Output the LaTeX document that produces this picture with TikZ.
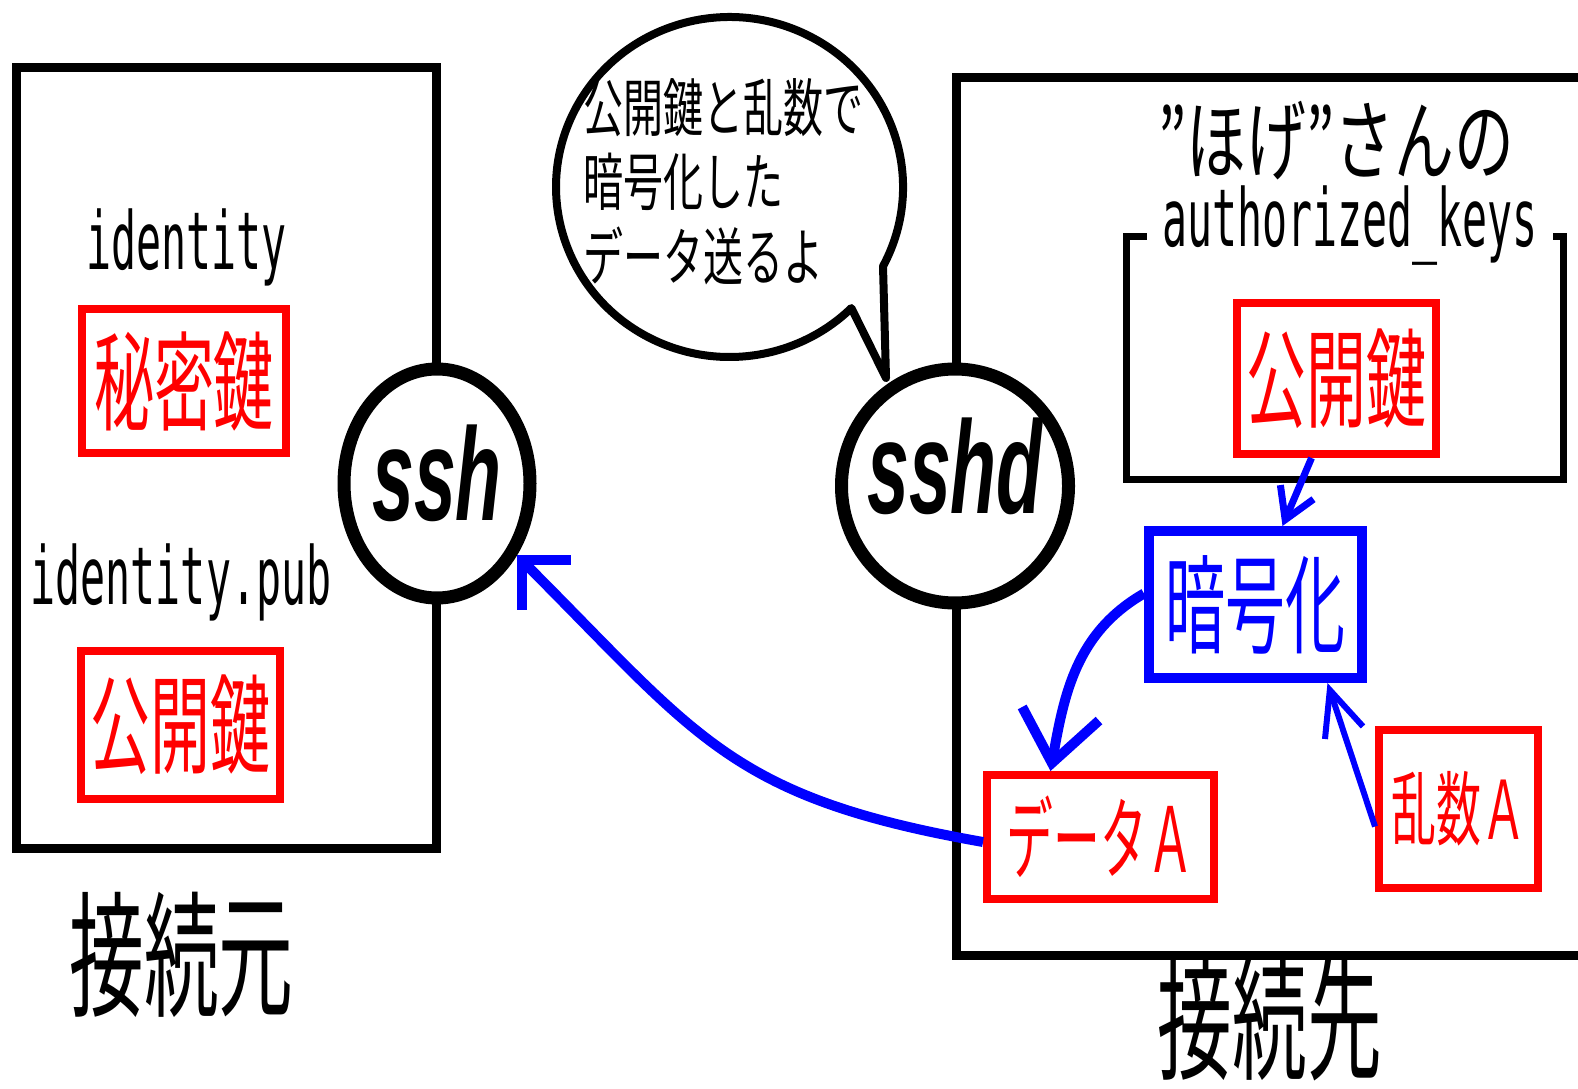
\documentclass[tikz,border=0pt]{standalone}
\usepackage{fontspec}
\usepackage{graphicx}
\usetikzlibrary{arrows.meta,shapes.geometric}
\newfontfamily\jpfont{Noto Sans CJK JP}
\newfontfamily\monofont{DejaVu Sans Mono}
\newfontfamily\prgfont{Liberation Sans}
\newcommand{\narrow}[2]{\scalebox{#1}[1]{#2}}

\begin{document}
\begin{tikzpicture}[x=1pt, y=1pt,
  frame/.style={line width=9pt},
  redbox/.style={draw=red, line width=8pt, text=red, inner sep=0pt,
    font=\jpfont\fontsize{108}{108}\selectfont},
  bluebox/.style={draw=blue, line width=10pt, text=blue, inner sep=0pt,
    font=\jpfont\fontsize{108}{108}\selectfont},
  prog/.style={draw, ellipse, line width=13pt, fill=white, inner sep=0pt,
    font=\prgfont\bfseries\itshape\fontsize{132}{132}\selectfont},
  fname/.style={font=\monofont\fontsize{80}{80}\selectfont, inner sep=0pt, anchor=base},
  host/.style={font=\jpfont\fontsize{136}{136}\selectfont, inner sep=0pt},
  flow/.style={draw=blue, line width=10pt}]
\useasboundingbox (0,0) rectangle (1578,1088);

% source side
\draw[frame] (16.5,1020.5) rectangle (436,240);
\node[fname] (idname) at (186.5,818) {\narrow{0.52}{identity}};
\node[redbox, minimum width=204pt, minimum height=144pt] (seckey) at (184,706.5) {\narrow{0.555}{秘密鍵}};
\node[fname] (pubname) at (181,484) {\narrow{0.52}{identity.pub}};
\node[redbox, minimum width=199pt, minimum height=148pt] (pubkeyL) at (180.5,363.5) {\narrow{0.555}{公開鍵}};
\node[host] (src) at (181.5,133) {\narrow{0.55}{接続元}};

% destination side
\draw[frame] (1578,1010) -- (956,1010) -- (956,133) -- (1578,133);
\node[font=\jpfont\fontsize{88}{88}\selectfont, inner sep=0pt] (owner) at (1336,947) {\narrow{0.68}{”ほげ”さんの}};
\draw[line width=7pt] (1126,851) rectangle (1563,608);
\node[fname, fill=white, inner xsep=15pt, inner ysep=2pt] (akname) at (1350,841) {\narrow{0.52}{authorized\_keys}};
\node[redbox, minimum width=199pt, minimum height=151pt] (pubkeyR) at (1336.5,709.5) {\narrow{0.555}{公開鍵}};
\node[bluebox, minimum width=213pt, minimum height=147pt] (enc) at (1255.5,483.5) {\narrow{0.555}{暗号化}};
\node[redbox, minimum width=227pt, minimum height=124pt, font=\jpfont\fontsize{90}{90}\selectfont] (data) at (1100.5,251) {\narrow{0.52}{データＡ}};
\node[redbox, minimum width=159pt, minimum height=158pt, font=\jpfont\fontsize{81}{81}\selectfont] (rand) at (1458.5,279.5) {\narrow{0.555}{乱数Ａ}};
\node[host] (dst) at (1270,70) {\narrow{0.55}{接続先}};

% speech bubble
\coordinate (tail) at (886,710);
\draw[line width=8pt, line join=round] (tail) -- (883,821.7)
  arc[start angle=-27.8, end angle=314.6, x radius=173.5, y radius=170] -- cycle;
\node[anchor=west, inner sep=0pt, font=\jpfont\fontsize{63}{72}\selectfont] (say) at (583,898)
  {\narrow{0.635}{\begin{tabular}{@{}l@{}}公開鍵と乱数で\\暗号化した\\データ送るよ\end{tabular}}};

\node[prog, minimum width=186pt, minimum height=229pt, text depth=22pt] (ssh) at (437,604.5) {\makebox[0pt]{\narrow{0.57}{ssh}}};
\node[prog, minimum width=227pt, minimum height=234pt, text depth=40pt] (sshd) at (955,602) {\makebox[0pt]{\narrow{0.57}{sshd}}};

\draw[flow, -{Straight Barb[length=35pt,width=70pt]}] ([yshift=-5pt]data.west) to[out=170, in=-45, looseness=1.2] (ssh.-42);
\draw[flow, -{Straight Barb[length=50pt,width=78pt]}] ([yshift=11pt]enc.west) to[out=210, in=80] ([xshift=-50pt]data.north);
\draw[flow, line width=7pt, -{Straight Barb[length=30pt,width=36pt]}] ([xshift=-25pt]pubkeyR.south) -- ([xshift=27pt]enc.north);
\draw[flow, line width=6pt, -{Straight Barb[length=45pt,width=40pt]}] ([yshift=-18pt]rand.west) -- ([xshift=72pt]enc.south);
\end{tikzpicture}
\end{document}
